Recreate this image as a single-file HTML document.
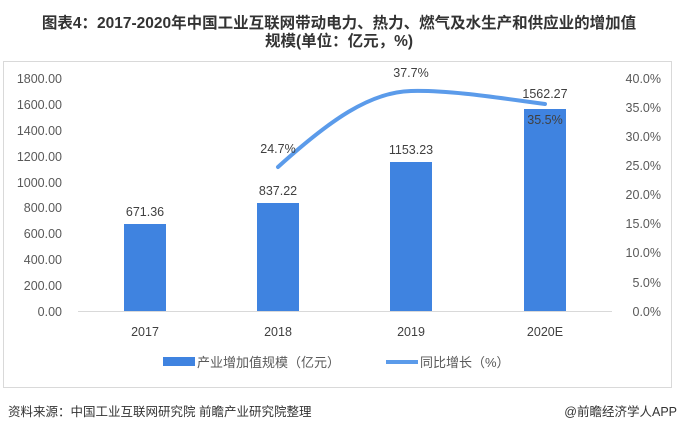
<!DOCTYPE html>
<html><head><meta charset="utf-8"><style>
body{margin:0;background:#fff;width:678px;height:432px;overflow:hidden;font-family:"Liberation Sans","Noto Sans CJK SC",sans-serif;}
</style></head><body>
<svg width="678" height="432" xmlns="http://www.w3.org/2000/svg" font-family="Liberation Sans, Noto Sans CJK SC, sans-serif">
<text x="339" y="28" text-anchor="middle" font-size="15.5" font-weight="bold" fill="#333">图表4：2017-2020年中国工业互联网带动电力、热力、燃气及水生产和供应业的增加值</text>
<text x="339" y="46" text-anchor="middle" font-size="15.5" font-weight="bold" fill="#333">规模(单位：亿元，%)</text>
<rect x="3.5" y="61.5" width="668" height="326" fill="none" stroke="#d9d9d9"/>
<g font-size="12.5" fill="#595959">
<text x="62" y="83" text-anchor="end">1800.00</text>
<text x="62" y="109" text-anchor="end">1600.00</text>
<text x="62" y="135" text-anchor="end">1400.00</text>
<text x="62" y="161" text-anchor="end">1200.00</text>
<text x="62" y="187" text-anchor="end">1000.00</text>
<text x="62" y="212" text-anchor="end">800.00</text>
<text x="62" y="238" text-anchor="end">600.00</text>
<text x="62" y="264" text-anchor="end">400.00</text>
<text x="62" y="290" text-anchor="end">200.00</text>
<text x="62" y="316" text-anchor="end">0.00</text>
<text x="661" y="83" text-anchor="end">40.0%</text>
<text x="661" y="112" text-anchor="end">35.0%</text>
<text x="661" y="141" text-anchor="end">30.0%</text>
<text x="661" y="170" text-anchor="end">25.0%</text>
<text x="661" y="199" text-anchor="end">20.0%</text>
<text x="661" y="228" text-anchor="end">15.0%</text>
<text x="661" y="257" text-anchor="end">10.0%</text>
<text x="661" y="287" text-anchor="end">5.0%</text>
<text x="661" y="316" text-anchor="end">0.0%</text>
</g>
<line x1="78" y1="311.5" x2="612" y2="311.5" stroke="#d9d9d9"/>
<g fill="#3f83e0">
<rect x="124" y="224" width="42" height="87"/>
<rect x="257" y="203" width="42" height="108"/>
<rect x="390" y="162" width="42" height="149"/>
<rect x="524" y="109" width="42" height="202"/>
</g>
<path d="M278 167 C330 120 370 92 411 91 C450 90 500 98 545 104" fill="none" stroke="#5b9bea" stroke-width="4" stroke-linecap="round"/>
<g font-size="12.5" fill="#404040" text-anchor="middle">
<text x="145" y="216">671.36</text>
<text x="278" y="195">837.22</text>
<text x="411" y="154">1153.23</text>
<text x="545" y="98">1562.27</text>
<text x="278" y="153">24.7%</text>
<text x="411" y="77">37.7%</text>
<rect x="525" y="112" width="40" height="15" fill="#3f83e0"/>
<text x="545" y="124">35.5%</text>
<text x="145" y="336">2017</text>
<text x="278" y="336">2018</text>
<text x="411" y="336">2019</text>
<text x="545" y="336">2020E</text>
</g>
<rect x="163" y="357" width="32" height="9" fill="#3f83e0"/>
<text x="197" y="367" font-size="13" fill="#595959">产业增加值规模（亿元）</text>
<line x1="386" y1="362" x2="418" y2="362" stroke="#5b9bea" stroke-width="4"/>
<text x="420" y="367" font-size="13" fill="#595959">同比增长（%）</text>
<text x="8" y="416" font-size="12.5" fill="#333">资料来源：中国工业互联网研究院 前瞻产业研究院整理</text>
<text x="677" y="416" font-size="12.5" fill="#333" text-anchor="end">@前瞻经济学人APP</text>
</svg>
</body></html>
